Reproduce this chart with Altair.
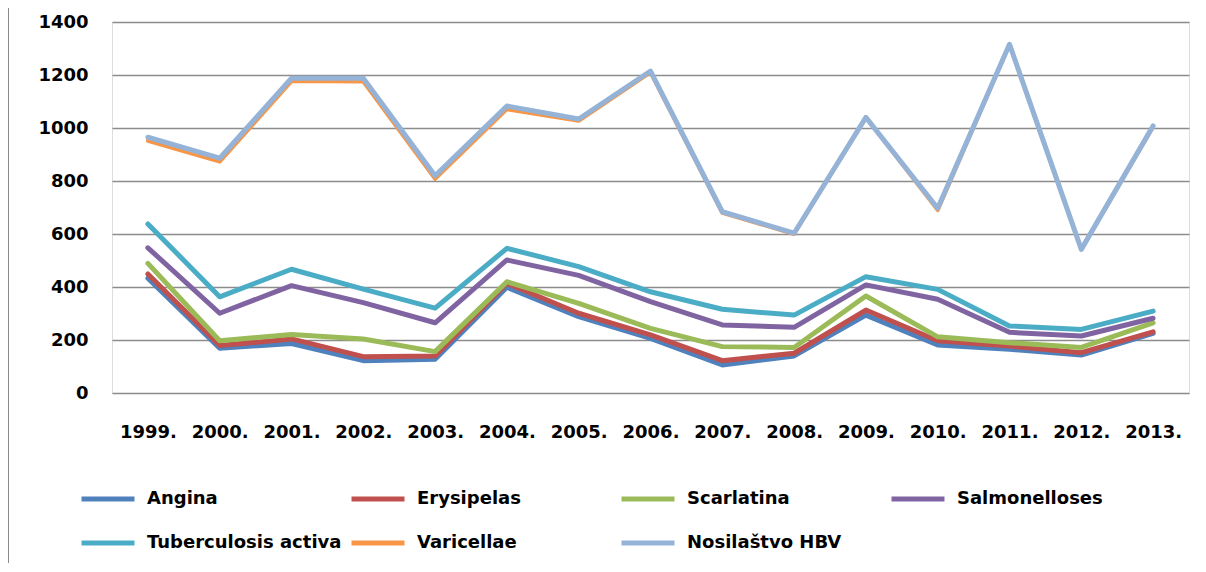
import altair as alt
import pandas as pd

years = ["1999.", "2000.", "2001.", "2002.", "2003.", "2004.", "2005.", "2006.",
         "2007.", "2008.", "2009.", "2010.", "2011.", "2012.", "2013."]

series_names = ["Angina", "Erysipelas", "Scarlatina", "Salmonelloses",
                "Tuberculosis activa", "Varicellae", "Nosilaštvo HBV"]

angina = [433, 169, 187, 122, 127, 399, 288, 206, 106, 140, 294, 181, 165, 143, 225]
erysipelas = [449, 179, 204, 137, 140, 414, 301, 219, 122, 150, 313, 197, 177, 152, 231]
scarlatina = [489, 197, 221, 204, 156, 420, 338, 244, 175, 172, 366, 212, 190, 172, 265]
salmonelloses = [548, 301, 405, 341, 265, 502, 444, 345, 257, 248, 408, 354, 229, 215, 282]
tuberculosis = [638, 363, 467, 392, 320, 546, 477, 382, 316, 294, 439, 391, 253, 240, 309]
varicellae = [952, 873, 1177, 1175, 808, 1071, 1027, 1210, 680, 600, 1040, 690, 1316, 542, 1005]
hbv = [965, 886, 1188, 1188, 820, 1083, 1034, 1215, 684, 603, 1040, 697, 1316, 542, 1008]

colors = ["#4F81BD", "#C0504D", "#9BBB59", "#8064A2", "#4BACC6", "#F79646", "#95B3D7"]

all_values = [angina, erysipelas, scarlatina, salmonelloses, tuberculosis, varicellae, hbv]
rows = []
for name, vals in zip(series_names, all_values):
    for y, v in zip(years, vals):
        rows.append({"year": y, "value": v, "series": name})
df = pd.DataFrame(rows)

FONT = "DejaVu Sans"

color = alt.Color(
    "series:N",
    scale=alt.Scale(domain=series_names, range=colors),
    legend=alt.Legend(
        title=None,
        orient="none",
        direction="horizontal",
        legendX=-33,
        legendY=448,
        columns=4,
        gridAlign="all",
        columnPadding=-1,
        rowPadding=5,
        symbolType="stroke",
        symbolSize=2809,
        symbolStrokeWidth=5,
        labelFont=FONT,
        labelFontSize=18,
        labelFontWeight="bold",
        labelColor="#000000",
        labelOffset=10,
        labelLimit=400,
        padding=0,
    ),
)

layers = []
for name in series_names:
    sw = 4 if name == "Varicellae" else 5
    layers.append(
        alt.Chart(df)
        .transform_filter(alt.datum.series == name)
        .mark_line(strokeWidth=sw, strokeJoin="round", strokeCap="round")
        .encode(
            x=alt.X("year:N", sort=years, scale=alt.Scale(type="point", padding=0.5),
                    axis=alt.Axis(title=None, labelAngle=0, ticks=False, domain=False,
                                  grid=False, labelFont=FONT, labelFontSize=18,
                                  labelFontWeight="bold", labelColor="#000000",
                                  labelPadding=30)),
            y=alt.Y("value:Q", scale=alt.Scale(domain=[0, 1400], nice=False),
                    axis=alt.Axis(title=None, values=[0, 200, 400, 600, 800, 1000, 1200, 1400],
                                  format="d",
                                  ticks=False, domain=False, grid=True, gridColor="#8C8C8C",
                                  gridWidth=1.5, labelFont=FONT, labelFontSize=18,
                                  labelFontWeight="bold", labelColor="#000000",
                                  labelPadding=24)),
            color=color,
        )
    )

border = alt.Chart(df).mark_rule(color="#8A8A8A", strokeWidth=2).encode(
    x=alt.value(-104), y=alt.value(-30), y2=alt.value(600)
)

chart = alt.layer(border, *layers).properties(
    width=1077,
    height=371,
    autosize=alt.AutoSizeParams(type="none"),
    padding={"left": 104, "top": 14, "right": 9, "bottom": 170},
).configure_view(stroke=None).configure(background="white")

chart.save("out.html", embed_options={"renderer": "svg", "actions": False})
